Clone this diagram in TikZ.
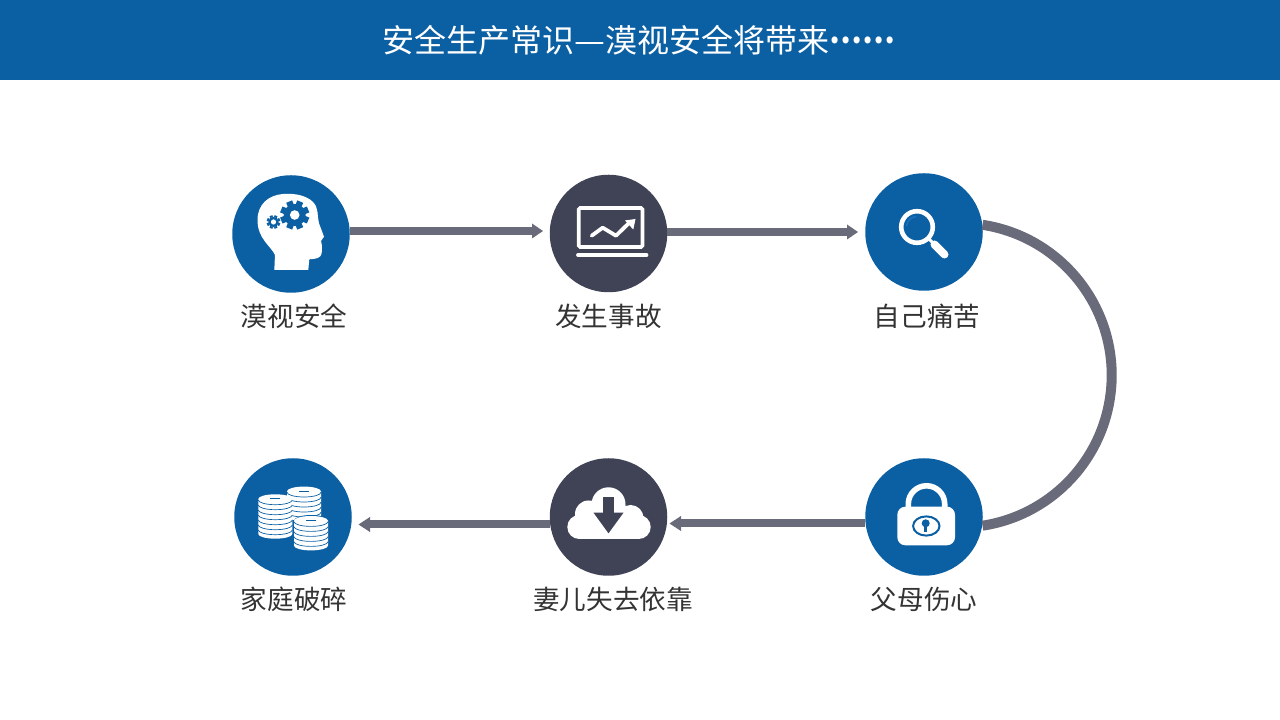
\documentclass[tikz,border=0pt]{standalone}
\usepackage{fontspec}
\setmainfont{Noto Sans CJK SC}
\usepackage{tikz}
\definecolor{headblue}{HTML}{0B5FA3}
\definecolor{slatedark}{HTML}{404355}
\definecolor{linegray}{HTML}{696A7A}
\definecolor{textgray}{HTML}{333333}
\definecolor{glassblue}{HTML}{1A72BE}
\tikzset{
	stepdisc/.style={circle,minimum size=117.5pt,inner sep=0pt,fill=#1},
	steplabel/.style={text=textgray,font=\fontsize{26.6}{30}\selectfont,inner sep=0pt},
	flowline/.style={linegray,line width=8pt},
	flowhead/.style={fill=linegray},
}
% one gear: centre, outer radius, hole radius
\newcommand{\gearicon}[3]{
	\fill[headblue] (#1) circle (#2*0.76);
	\foreach \a in {0,45,...,315}
		\fill[headblue,shift={(#1)},rotate=\a+22.5] (#2*0.7,-#2*0.22) rectangle (#2,#2*0.22);
	\fill[white] (#1) circle (#3);
}
% one pile of coins: x, y of the top face, layers
\newcommand{\coinstack}[3]{
	\fill[white] (#1-17,#2) -- (#1-17,#2-5*#3) arc (180:360:17 and 4.7) -- (#1+17,#2) arc (0:180:17 and 4.7) -- cycle;
	\foreach \k in {1,...,#3}
		\draw[headblue,line width=0.7pt] (#1-17,#2-5*\k+4) arc (180:360:17 and 4.7);
	\fill[headblue] (#1-5,#2-0.5) rectangle (#1+5,#2+0.5);
}
\begin{document}
\begin{tikzpicture}[x=1pt,y=1pt]
	\useasboundingbox (0,0) rectangle (1280,720);
	\fill[headblue] (0,640) rectangle (1280,720);
	\node[text=white,font=\fontsize{32}{36}\selectfont,inner sep=0pt] (title) at (639,680) {安全生产常识\scalebox{1.08}[1]{—}漠视安全将带来\scalebox{0.91}[1]{\raisebox{8.5pt}{\bfseries ……}}};

	\node[stepdisc=headblue] (brain) at (291,486) {};
	\node[stepdisc=slatedark] (chart) at (608.5,486.5) {};
	\node[stepdisc=headblue] (lens) at (924,488) {};
	\node[stepdisc=headblue] (lock) at (924,203) {};
	\node[stepdisc=slatedark] (cloud) at (608.5,203) {};
	\node[stepdisc=headblue] (coins) at (293,203) {};

	\node[steplabel] (brainlabel) at (294,404) {漠视安全};
	\node[steplabel] (chartlabel) at (608.5,404) {发生事故};
	\node[steplabel] (lenslabel) at (927,404) {自己痛苦};
	\node[steplabel] (locklabel) at (924,121) {父母伤心};
	\node[steplabel] (cloudlabel) at (613,121) {妻儿失去依靠};
	\node[steplabel] (coinslabel) at (294,121) {家庭破碎};

	% arrows
	\coordinate (tipa) at (532,489);
	\coordinate (tipb) at (847,488);
	\coordinate (tipc) at (681,196.5);
	\coordinate (tipd) at (370,195.5);
	\draw[flowline] (tipa -| brain.east) -- (tipa);
	\fill[flowhead] (tipa) ++(0,7.5) -- ++(11,-7.5) -- ++(-11,-7.5) -- cycle;
	\draw[flowline] (tipb -| chart.east) -- (tipb);
	\fill[flowhead] (tipb) ++(0,7.5) -- ++(11,-7.5) -- ++(-11,-7.5) -- cycle;
	\draw[flowline] (tipc -| lock.west) -- (tipc);
	\fill[flowhead] (tipc) ++(0,7.5) -- ++(-11.5,-7.5) -- ++(11.5,-7.5) -- cycle;
	\draw[flowline] (tipd -| cloud.west) -- (tipd);
	\fill[flowhead] (tipd) ++(0,7.5) -- ++(-11.5,-7.5) -- ++(11.5,-7.5) -- cycle;
	\draw[linegray,line width=10pt] (lens.7) arc (81.3:-81.3:152.2);

	% head with gears
	\begin{scope}[shift={(brain.center)}]
		\fill[white] (-16.7,-36) -- (-16,-21) .. controls (-20,-12) and (-33.5,-5) .. (-33.5,14)
			.. controls (-33.5,30) and (-22,39) .. (-8,40) .. controls (5,41) and (16,38) .. (22,32)
			.. controls (28,26) and (26,18) .. (28,10.7) -- (33,-2.7) -- (30,-7) -- (31,-12) -- (30.7,-19.3)
			.. controls (30,-24) and (25,-25) .. (18.3,-25.3) -- (17.3,-36) -- cycle;
		\gearicon{3.7,19}{14.5}{4.8}
		\gearicon{-17.5,12}{6.8}{2.6}
	\end{scope}

	% laptop
	\begin{scope}[shift={(chart.center)}]
		\draw[white,line width=3.6pt,rounded corners=1.5pt] (-29.8,25.5) rectangle (34,-13.5);
		\draw[white,line width=3.8pt,line cap=round] (-30.5,-21.5) -- (38,-21.5);
		\draw[white,line width=3.8pt,line cap=round,line join=round] (-16.8,-2.2) -- (-5.8,5.8) -- (7.5,-2.2) -- (20,10);
		\fill[white] (16.5,13) -- (27,14.5) -- (24.8,4);
	\end{scope}

	% magnifier
	\begin{scope}[shift={(lens.center)}]
		\draw[white,line width=4.6pt] (-7,5) circle (15.8);
		\draw[glassblue,line width=1.4pt] (-7,5) ++(175:10.5) arc (175:95:10.5);
		\draw[white,line width=3pt] (5,-7) -- (11,-13);
		\draw[white,line width=8pt,line cap=round] (10.5,-12.5) -- (20.5,-22.5);
	\end{scope}

	% padlock
	\begin{scope}[shift={(lock.center)}]
		\draw[white,line width=5.6pt] (-15.7,8) -- (-15.7,13) arc (180:0:18.2) -- (20.7,8);
		\fill[white,rounded corners=8pt] (-26.7,10.3) rectangle (31,-28.3);
		\draw[headblue,line width=2pt] (2.3,-9) ellipse (13.2 and 9.6);
		\fill[headblue] (1.7,-6.3) circle (4);
		\draw[headblue,line width=2.6pt] (1.7,-7) -- (1.7,-14.8);
	\end{scope}

	% cloud with down arrow
	\begin{scope}[shift={(cloud.center)}]
		\fill[white] (-29.2,-10) circle (12) (30.2,-10) circle (12) (0,12.7) circle (17)
			(-20,3) circle (13.5) (22,-1) circle (13);
		\fill[white] (-29.2,-22) rectangle (30.2,0);
		\fill[slatedark] (-5.2,20.3) rectangle (5.5,3.7);
		\fill[slatedark] (-15,4.3) -- (15,4.3) -- (0,-16.3) -- cycle;
	\end{scope}

	% coins
	\begin{scope}[shift={(coins.center)}]
		\coinstack{11}{25.7}{5}
		\coinstack{-17.7}{18}{7}
		\fill[headblue] (1,-3.7) -- (1,-31) arc (180:360:17 and 4.7) -- (35,-3.7) arc (0:180:17 and 5.7) -- cycle;
		\coinstack{18}{-3.7}{5}
	\end{scope}
\end{tikzpicture}
\end{document}
